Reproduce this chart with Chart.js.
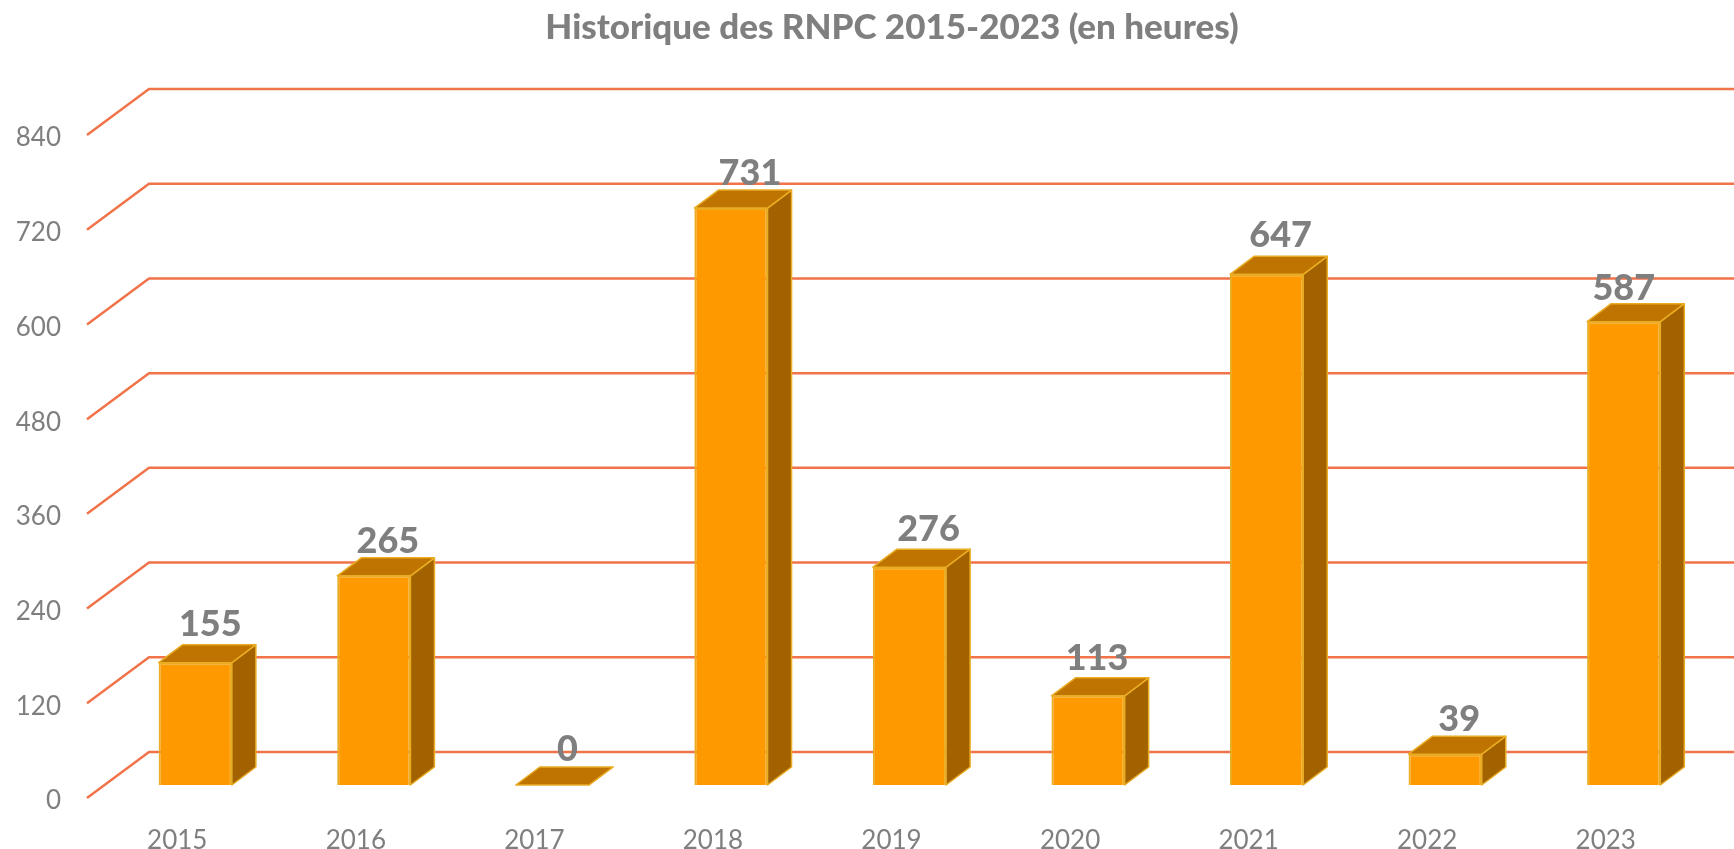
<!DOCTYPE html>
<html lang="fr">
  <head>
    <meta charset="UTF-8" />
    <style>
      body { margin: 0; background: #fff; }
      #mainChart { width: 1734px; height: 849px; }
    </style>
    <script src="https://cdn.jsdelivr.net/npm/chart.js"></script>
  </head>
  <body>
    <div id="mainChart">
      <canvas id="myChart"></canvas>
    </div>

    <script>
      const years = ["2015", "2016", "2017", "2018", "2019", "2020", "2021", "2022", "2023"];
      const hours = [155, 265, 0, 731, 276, 113, 647, 39, 587];
      const yTicks = [0, 120, 240, 360, 480, 600, 720, 840];
      const chartTitle = "Historique des RNPC 2015-2023 (en heures)";

      const fontName = "Lato, 'Open Sans', sans-serif";
      const textColor = "#7f7f7f";
      const gridColor = "#f0734a";

      // fake 3D depth of the bars and of the floor
      const barDepthX = 24;
      const barDepthY = 18;
      const floorFrontX = 87;
      const floorBackX = 149;
      const floorFrontY = 13;
      const floorBackY = 33;

      // small hand nudges so the value labels sit like in the picture
      const labelNudgeX = [15, 14, 15, 19, 19, 9, 14, 14, 0];
      const labelNudgeY = [-38, -34, -36, -35, -38, -37, -39, -35, -33];

      // title is centred a bit right of the page in the picture
      const titleShift = {
        id: "titleShift",
        afterLayout(chart) {
          chart.titleBlock.left = 50;
          chart.titleBlock.right = 1734;
        },
      };

      const floorGrid = {
        id: "floorGrid",
        beforeDatasetsDraw(chart) {
          const { ctx, scales } = chart;
          ctx.save();
          ctx.strokeStyle = gridColor;
          ctx.lineWidth = 2.5;
          yTicks.forEach((v) => {
            const y = scales.y.getPixelForValue(v);
            ctx.beginPath();
            ctx.moveTo(floorFrontX, y + floorFrontY);
            ctx.lineTo(floorBackX, y - floorBackY);
            ctx.lineTo(chart.width, y - floorBackY);
            ctx.stroke();
          });
          ctx.restore();
        },
      };

      const barDepth = {
        id: "barDepth",
        afterDatasetsDraw(chart) {
          const { ctx } = chart;
          const bars = chart.getDatasetMeta(0).data;
          ctx.save();
          ctx.lineWidth = 1.5;
          ctx.strokeStyle = "#e9ac23";
          ctx.lineJoin = "round";
          bars.forEach((bar, i) => {
            const left = bar.x - bar.width / 2;
            const right = bar.x + bar.width / 2;
            const top = bar.y;
            const bottom = bar.base;

            // side face
            ctx.fillStyle = "#a36200";
            ctx.beginPath();
            ctx.moveTo(right, top);
            ctx.lineTo(right + barDepthX, top - barDepthY);
            ctx.lineTo(right + barDepthX, bottom - barDepthY);
            ctx.lineTo(right, bottom);
            ctx.closePath();
            ctx.fill();
            ctx.stroke();

            // top face
            ctx.fillStyle = "#bf7300";
            ctx.beginPath();
            ctx.moveTo(left, top);
            ctx.lineTo(left + barDepthX, top - barDepthY);
            ctx.lineTo(right + barDepthX, top - barDepthY);
            ctx.lineTo(right, top);
            ctx.closePath();
            ctx.fill();
            ctx.stroke();

            // value label
            ctx.fillStyle = textColor;
            ctx.font = "900 36px " + fontName;
            ctx.textAlign = "center";
            ctx.textBaseline = "middle";
            ctx.fillText(hours[i], bar.x + labelNudgeX[i], top + labelNudgeY[i]);
          });
          ctx.restore();
        },
      };

      const myChart = new Chart(document.getElementById("myChart"), {
        type: "bar",
        data: {
          labels: years,
          datasets: [
            {
              label: "RNPC",
              data: hours,
              backgroundColor: "#ff9900",
              borderColor: "#e9ac23",
              borderWidth: 2,
              categoryPercentage: 0.41,
              barPercentage: 1,
            },
          ],
        },
        plugins: [titleShift, floorGrid, barDepth],
        options: {
          responsive: true,
          maintainAspectRatio: false,
          animation: false,
          layout: { padding: { left: 0, right: 21, top: 7, bottom: 0 } },
          plugins: {
            legend: { display: false },
            tooltip: { enabled: false },
            title: {
              display: true,
              text: chartTitle,
              color: textColor,
              font: { family: fontName, size: 35, weight: "900" },
              padding: { top: 0, bottom: 73 },
            },
          },
          scales: {
            x: {
              grid: { display: false },
              border: { display: false },
              ticks: {
                color: textColor,
                font: { family: fontName, size: 26 },
                labelOffset: -18,
                padding: 32,
                maxRotation: 0,
              },
              afterFit(scale) {
                scale.height = 64;
              },
            },
            y: {
              min: 0,
              max: 840,
              grid: { display: false },
              border: { display: false },
              afterBuildTicks(scale) {
                scale.ticks = yTicks.map((v) => ({ value: v }));
              },
              ticks: {
                color: textColor,
                font: { family: fontName, size: 26 },
                labelOffset: 16,
                padding: 37,
              },
              afterFit(scale) {
                scale.width = 106;
              },
            },
          },
        },
      });
    </script>
  </body>
</html>
